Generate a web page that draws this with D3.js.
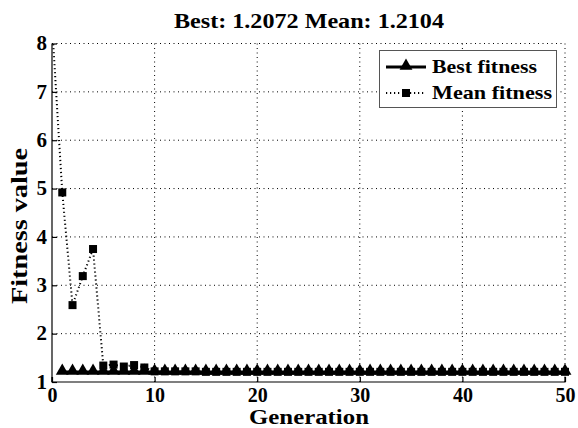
<!DOCTYPE html>
<html>
<head>
<meta charset="utf-8">
<script src="https://cdn.jsdelivr.net/npm/d3@7"></script>
<style>
  body { margin: 0; background: #fff; }
  text { font-family: "Liberation Serif", "Times New Roman", serif; font-weight: bold; }
</style>
</head>
<body>
<svg id="chart" width="578" height="428"></svg>
<script>
// generations and values
const generations = d3.range(0, 51);
const meanFitness = [8.4, 4.92, 2.59, 3.19, 3.75, 1.34, 1.36, 1.32, 1.35, 1.30,
    1.22, 1.22, 1.22, 1.22, 1.22, 1.21, 1.21, 1.21, 1.21, 1.21,
    1.21, 1.21, 1.21, 1.21, 1.21, 1.21, 1.21, 1.21, 1.21, 1.21,
    1.21, 1.21, 1.21, 1.21, 1.21, 1.21, 1.21, 1.21, 1.21, 1.21,
    1.21, 1.21, 1.21, 1.21, 1.21, 1.21, 1.21, 1.21, 1.21, 1.21, 1.2104];
const bestFitness = [null, 1.2072, 1.2072, 1.2072, 1.2072, 1.2072, 1.2072, 1.2072, 1.2072, 1.2072,
    1.2072, 1.2072, 1.2072, 1.2072, 1.2072, 1.2072, 1.2072, 1.2072, 1.2072, 1.2072,
    1.2072, 1.2072, 1.2072, 1.2072, 1.2072, 1.2072, 1.2072, 1.2072, 1.2072, 1.2072,
    1.2072, 1.2072, 1.2072, 1.2072, 1.2072, 1.2072, 1.2072, 1.2072, 1.2072, 1.2072,
    1.2072, 1.2072, 1.2072, 1.2072, 1.2072, 1.2072, 1.2072, 1.2072, 1.2072, 1.2072, 1.2072];
const xTicks = [0, 10, 20, 30, 40, 50];
const yTicks = [1, 2, 3, 4, 5, 6, 7, 8];
const legendLabels = ["Best fitness", "Mean fitness"];

const svg = d3.select("#chart");
const pLeft = 52, pRight = 565, pTop = 43.5, pBottom = 382;

const x = d3.scaleLinear().domain([0, 50]).range([pLeft, pRight]);
const y = d3.scaleLinear().domain([1, 8]).range([pBottom, pTop]);

svg.append("defs").append("clipPath").attr("id", "clip")
    .append("rect")
    .attr("x", pLeft).attr("y", pTop)
    .attr("width", pRight - pLeft).attr("height", pBottom - pTop);

// dotted grid
const grid = svg.append("g");
grid.selectAll(".gx").data(xTicks.filter(d => d > 0)).enter().append("line")
    .attr("x1", d => x(d)).attr("x2", d => x(d))
    .attr("y1", pTop).attr("y2", pBottom)
    .attr("stroke", "#000").attr("stroke-width", 1)
    .attr("stroke-dasharray", "1,3.5");
grid.selectAll(".gy").data(yTicks.filter(d => d > 1)).enter().append("line")
    .attr("x1", pLeft).attr("x2", pRight)
    .attr("y1", d => y(d)).attr("y2", d => y(d))
    .attr("stroke", "#000").attr("stroke-width", 1)
    .attr("stroke-dasharray", "1,3.5");

// axes
const xAxis = svg.append("g").attr("transform", `translate(0,${pBottom})`)
    .call(d3.axisBottom(x).tickValues(xTicks).tickFormat(d3.format("d")).tickSize(-5));
const yAxis = svg.append("g").attr("transform", `translate(${pLeft},0)`)
    .call(d3.axisLeft(y).tickValues(yTicks).tickFormat(d3.format("d")).tickSize(-5).tickPadding(5));
[xAxis, yAxis].forEach(a => {
    a.select(".domain").attr("stroke", "#000").attr("stroke-width", 1.2);
    a.selectAll(".tick line").attr("stroke", "#000").attr("stroke-width", 1.2);
    a.selectAll(".tick text").attr("fill", "#000")
        .style("font-family", "Liberation Serif").style("font-weight", "bold")
        .style("font-size", "21px");
});
xAxis.select(".domain").attr("d", `M${pLeft},-5V0H${pRight}V-5`);
yAxis.select(".domain").attr("d", `M0,${pBottom}V${pTop}`);
xAxis.selectAll(".tick text").attr("y", 20).attr("dy", 0).style("font-size", "20px");
yAxis.selectAll(".tick text").attr("dy", "0.3em");

const plot = svg.append("g").attr("clip-path", "url(#clip)");

// mean fitness
const meanData = generations.map((g, i) => ({ g: g, v: meanFitness[i] }));
plot.append("path").datum(meanData)
    .attr("fill", "none").attr("stroke", "#000").attr("stroke-width", 2)
    .attr("stroke-dasharray", "1.2,2.8")
    .attr("d", d3.line().x(d => x(d.g)).y(d => y(d.v)));
svg.append("g").selectAll("rect").data(meanData.filter(d => d.v <= 8)).enter().append("rect")
    .attr("x", d => x(d.g) - 4).attr("y", d => y(d.v) - 4)
    .attr("width", 8).attr("height", 8).attr("fill", "#000");

// best fitness
const bestData = generations.map((g, i) => ({ g: g, v: bestFitness[i] })).filter(d => d.v !== null);
svg.append("path").datum(bestData)
    .attr("fill", "none").attr("stroke", "#000").attr("stroke-width", 3)
    .attr("d", d3.line().x(d => x(d.g)).y(d => y(d.v)));
const tri = d3.symbol().type(d3.symbolTriangle).size(72);
svg.append("g").selectAll("path").data(bestData).enter().append("path")
    .attr("transform", d => `translate(${x(d.g)},${y(d.v) - 1})`)
    .attr("d", tri).attr("fill", "#000");

// title and axis labels
svg.append("text").attr("x", 309).attr("y", 28).attr("text-anchor", "middle")
    .attr("textLength", 270).attr("lengthAdjust", "spacingAndGlyphs")
    .style("font-size", "22px").text("Best: 1.2072 Mean: 1.2104");
svg.append("text").attr("x", 309).attr("y", 424).attr("text-anchor", "middle")
    .attr("textLength", 120).attr("lengthAdjust", "spacingAndGlyphs")
    .style("font-size", "20px").text("Generation");
svg.append("text").attr("transform", "translate(27,226) rotate(-90)").attr("text-anchor", "middle")
    .attr("textLength", 156).attr("lengthAdjust", "spacingAndGlyphs")
    .style("font-size", "24px").text("Fitness value");

// legend
const legend = svg.append("g");
legend.append("rect").attr("x", 379.5).attr("y", 50.5).attr("width", 177).attr("height", 57)
    .attr("fill", "#fff").attr("stroke", "#555").attr("stroke-width", 1);
legendLabels.forEach((lab, i) => {
    const ly = 67 + i * 26;
    if (i === 0) {
        legend.append("line").attr("x1", 386).attr("x2", 426).attr("y1", ly).attr("y2", ly)
            .attr("stroke", "#000").attr("stroke-width", 3);
        legend.append("path").attr("transform", `translate(406,${ly - 1})`).attr("d", tri).attr("fill", "#000");
    } else {
        legend.append("line").attr("x1", 386).attr("x2", 426).attr("y1", ly).attr("y2", ly)
            .attr("stroke", "#000").attr("stroke-width", 2).attr("stroke-dasharray", "1.2,2.8");
        legend.append("rect").attr("x", 402).attr("y", ly - 4).attr("width", 8).attr("height", 8).attr("fill", "#000");
    }
    legend.append("text").attr("x", 432).attr("y", ly + 6)
        .attr("textLength", i === 0 ? 105 : 120).attr("lengthAdjust", "spacingAndGlyphs")
        .style("font-size", "19px").text(lab);
});
</script>
</body>
</html>
